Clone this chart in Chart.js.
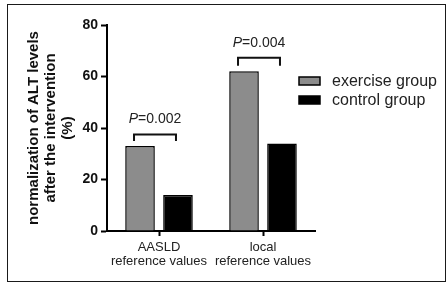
<!DOCTYPE html>
<html>
<head>
<meta charset="utf-8">
<script src="https://cdn.jsdelivr.net/npm/chart.js@4.4.1/dist/chart.umd.min.js"></script>
<style>
  html, body { margin: 0; padding: 0; background: #fff; }
  #frame {
    position: absolute; left: 7px; top: 4px; width: 439px; height: 278px;
    box-sizing: border-box; border: 1.5px solid #1a1a1a;
  }
  #chart { position: absolute; left: 0; top: 0; }
</style>
</head>
<body>
<div id="frame"></div>
<canvas id="chart" width="446" height="286"></canvas>
<script>
'use strict';

// ── Data ──
const CATEGORIES = [['AASLD', 'reference values'], ['local', 'reference values']];
const EXERCISE   = [33, 62];
const CONTROL    = [14, 34];
const P_VALUES   = ['0.002', '0.004'];
const BRACKET_TOP  = [37.5, 67.3];   // bracket bar level (y units)
const BRACKET_FOOT = [35, 64.2];     // where the legs end
const P_TEXT_Y     = [43.3, 73.1];   // centre of the P= label
const Y_TITLE = ['normalization of ALT levels', 'after the intervention', '(%)'];

const FONT = '"Liberation Sans", Arial, Helvetica, sans-serif';
Chart.defaults.font.family = FONT;
Chart.defaults.color = '#111';

// ── P-value brackets ──
const pvalPlugin = {
  id: 'pvals',
  afterDatasetsDraw(chart) {
    const ctx = chart.ctx;
    const y = chart.scales.y;
    const ex = chart.getDatasetMeta(0).data;
    const ct = chart.getDatasetMeta(1).data;
    ctx.save();
    ctx.strokeStyle = '#111';
    ctx.lineWidth = 2;
    P_VALUES.forEach((p, i) => {
      const x1 = ex[i].x - 6, x2 = ct[i].x - 2;
      const yTop = y.getPixelForValue(BRACKET_TOP[i]);
      const yFoot = y.getPixelForValue(BRACKET_FOOT[i]);
      ctx.beginPath();
      ctx.moveTo(x1, yFoot); ctx.lineTo(x1, yTop);
      ctx.lineTo(x2, yTop); ctx.lineTo(x2, yFoot);
      ctx.stroke();

      const cx = (x1 + x2) / 2, ty = y.getPixelForValue(P_TEXT_Y[i]);
      ctx.font = 'italic 14px ' + FONT;
      const wP = ctx.measureText('P').width;
      ctx.font = '14px ' + FONT;
      const wR = ctx.measureText('=' + p).width;
      const sx = cx - (wP + wR) / 2;
      ctx.textBaseline = 'middle';
      ctx.textAlign = 'left';
      ctx.fillStyle = '#222';
      ctx.font = 'italic 14px ' + FONT;
      ctx.fillText('P', sx, ty);
      ctx.font = '14px ' + FONT;
      ctx.fillText('=' + p, sx + wP, ty);
    });
    ctx.restore();
  }
};

// ── Legend (overlaps the plot's right edge, so drawn by hand) ──
const legendPlugin = {
  id: 'sideLegend',
  afterDraw(chart) {
    const ctx = chart.ctx;
    ctx.save();
    ctx.font = '16px ' + FONT;
    ctx.textBaseline = 'middle';
    ctx.textAlign = 'left';
    chart.data.datasets.forEach((ds, i) => {
      const bx = 299, by = 77 + i * 19;
      ctx.fillStyle = ds.backgroundColor;
      ctx.fillRect(bx, by, 21, 8);
      ctx.strokeStyle = '#000';
      ctx.lineWidth = 1.5;
      ctx.strokeRect(bx, by, 21, 8);
      ctx.fillStyle = '#222';
      ctx.fillText(ds.label, 332, by + 4.5);
    });
    ctx.restore();
  }
};

new Chart(document.getElementById('chart'), {
  type: 'bar',
  data: {
    labels: CATEGORIES,
    datasets: [
      {
        label: 'exercise group',
        data: EXERCISE,
        backgroundColor: '#8c8c8c',
        borderColor: '#000',
        borderWidth: 1.5,
      },
      {
        label: 'control group',
        data: CONTROL,
        backgroundColor: '#000',
        borderColor: '#000',
        borderWidth: 1.5,
      },
    ],
  },
  options: {
    responsive: false,
    animation: false,
    categoryPercentage: 0.73,
    barPercentage: 0.78,
    layout: { padding: { top: 25, right: 131, bottom: 0, left: 0 } },
    plugins: { legend: { display: false }, tooltip: { enabled: false } },
    scales: {
      x: {
        grid: { offset: false, drawOnChartArea: false, tickLength: 5, tickWidth: 2, tickColor: '#000' },
        border: { color: '#000', width: 2 },
        ticks: { font: { size: 13, lineHeight: 1.1 }, color: '#222', padding: 4, maxRotation: 0 },
        afterFit(scale) { scale.height = 55; },
      },
      y: {
        min: 0,
        max: 80,
        grid: { drawOnChartArea: false, tickLength: 6, tickWidth: 2, tickColor: '#000' },
        border: { color: '#000', width: 2 },
        ticks: { stepSize: 20, font: { size: 14, weight: 'bold' }, color: '#111', padding: 3 },
        title: {
          display: true,
          text: Y_TITLE,
          font: { size: 15, weight: 'bold', lineHeight: 1.15 },
          color: '#111',
          padding: { top: 25, bottom: 0 },
        },
        afterFit(scale) { scale.width = 107; },
      },
    },
  },
  plugins: [pvalPlugin, legendPlugin],
});
</script>
</body>
</html>
